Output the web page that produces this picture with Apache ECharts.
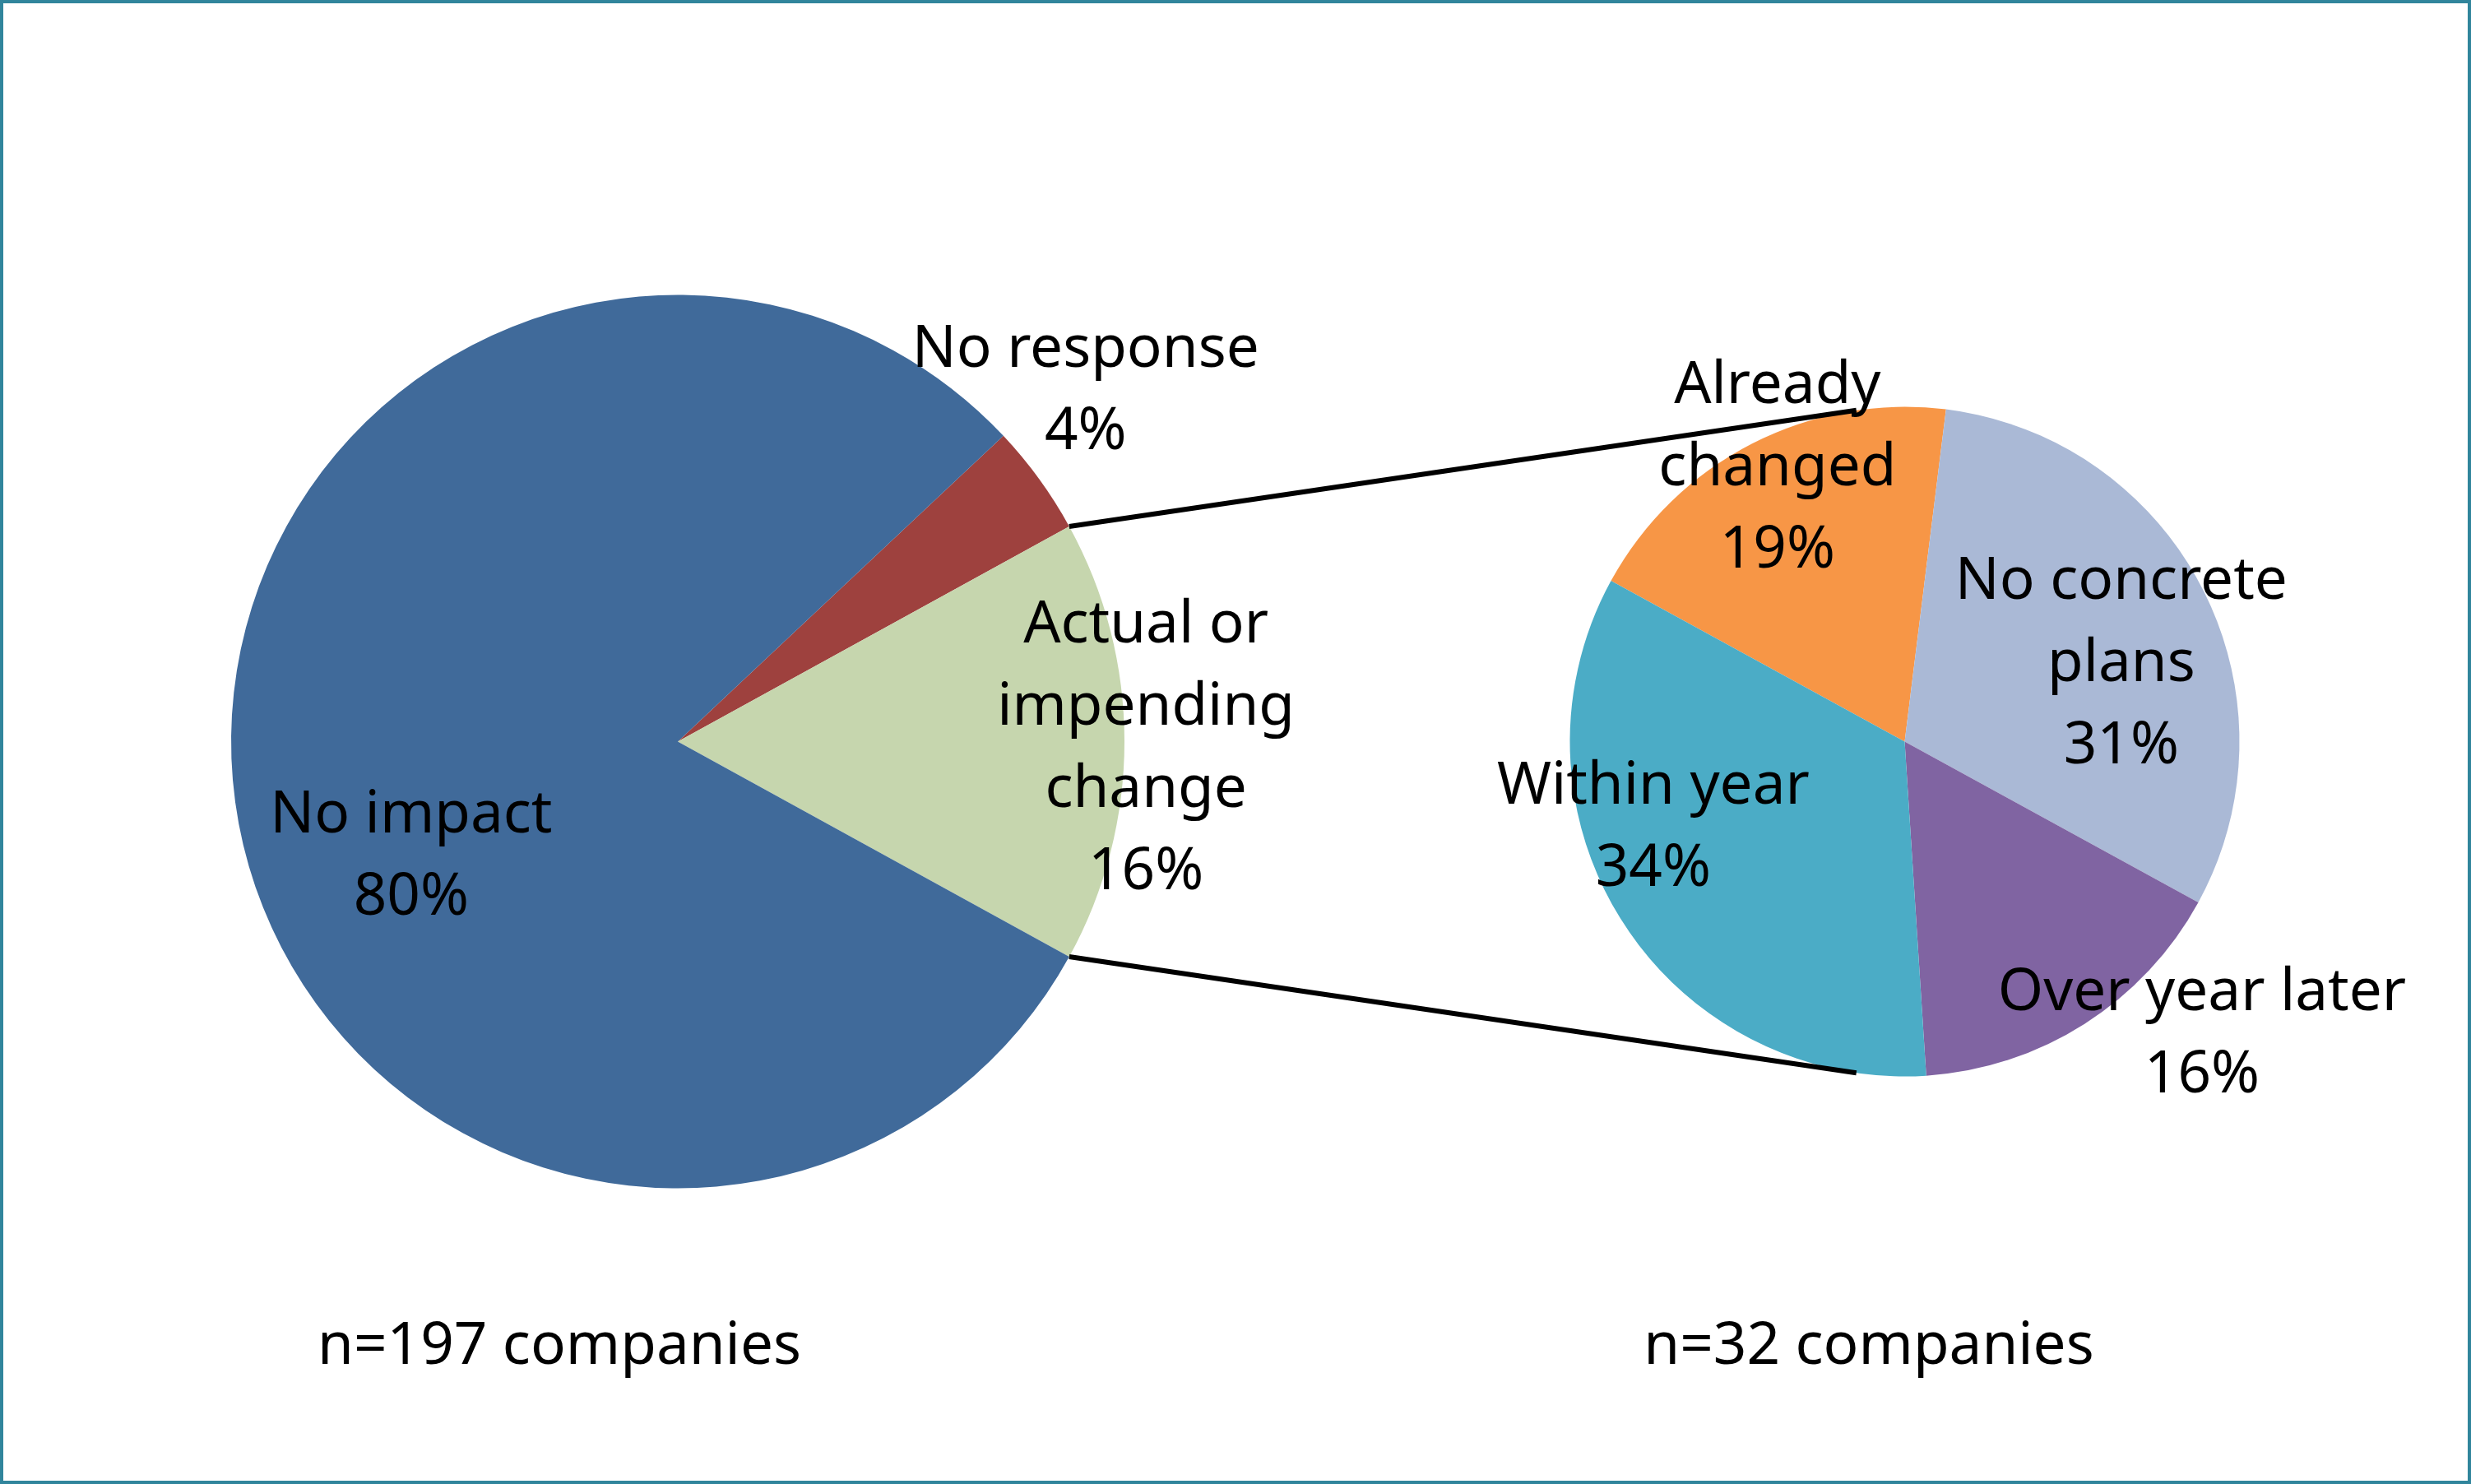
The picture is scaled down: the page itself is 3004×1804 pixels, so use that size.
<!DOCTYPE html>
<html>
<head>
<meta charset="utf-8">
<script src="https://cdn.jsdelivr.net/npm/echarts@6/dist/echarts.min.js"></script>
<style>
html,body{margin:0;padding:0;background:#fff;}
#chart{width:3004px;height:1804px;}
</style>
</head>
<body>
<div id="chart"></div>
<script>
// ---- data ----
const mainCategories = ['No response', 'Actual or\nimpending\nchange', 'No impact'];
const mainValues = [4, 16, 80];
const mainColors = ['#9E413E', '#C6D6AE', '#406A9A'];

const subCategories = ['Already\nchanged', 'No concrete\nplans', 'Over year later', 'Within year'];
const subValues = [19, 31, 16, 34];
const subColors = ['#F79646', '#AAB9D6', '#8064A2', '#4BACC6'];

const sampleLabels = ['n=197 companies', 'n=32 companies'];

// ---- layout ----
const W = 3004, H = 1804;
const L = {cx: 824, cy: 901.5, r: 543};
const R = {cx: 2315.5, cy: 901.5, r: 407};
const FONT = '"Noto Sans", sans-serif';
const FS = 71;
const LH = 100;
const DY = 7;

// label offsets relative to pie centre, in units of radius
const mainLabelOffsets = [[0.913, -0.797], [1.048, 0.005], [-0.597, 0.246]];
const subLabelOffsets = [[-0.380, -0.832], [0.647, -0.247], [0.888, 0.859], [-0.751, 0.242]];

// start angle so the "change" slice is centred on the right side
const mainStart = mainValues[0] / 100 * 360 + mainValues[1] / 100 * 360 / 2;
const subStart = 151.3;

function pts(c, deg) {
  const a = deg * Math.PI / 180;
  return [c.cx + c.r * Math.cos(a), c.cy - c.r * Math.sin(a)];
}
const halfChange = mainValues[1] / 100 * 360 / 2;
const lt = pts(L, halfChange), lb = pts(L, -halfChange);
const rt = pts(R, 98.3), rb = pts(R, -98.3);

function mkData(names, vals, cols) {
  return names.map((n, i) => ({name: n, value: vals[i], itemStyle: {color: cols[i]}}));
}

const chart = echarts.init(document.getElementById('chart'), null, {renderer: 'canvas'});
const labelStyle = {
  show: true,
  formatter: '{b}\n{c}%',
  color: '#000',
  fontFamily: FONT,
  fontSize: FS,
  lineHeight: LH,
  align: 'center'
};
chart.setOption({
  animation: false,
  backgroundColor: '#fff',
  series: [
    {
      type: 'pie',
      center: [L.cx, L.cy],
      radius: [0, L.r],
      startAngle: mainStart,
      clockwise: true,
      silent: true,
      label: Object.assign({position: 'inside'}, labelStyle),
      labelLine: {show: false},
      emphasis: {disabled: true},
      itemStyle: {borderWidth: 0},
      labelLayout: function (p) {
        const o = mainLabelOffsets[p.dataIndex];
        return {x: L.cx + o[0] * L.r, y: L.cy + o[1] * L.r + DY, align: 'center', verticalAlign: 'middle'};
      },
      data: mkData(mainCategories, mainValues, mainColors)
    },
    {
      type: 'pie',
      center: [R.cx, R.cy],
      radius: [0, R.r],
      startAngle: subStart,
      clockwise: true,
      silent: true,
      label: Object.assign({position: 'inside'}, labelStyle),
      labelLine: {show: false},
      emphasis: {disabled: true},
      itemStyle: {borderWidth: 0},
      labelLayout: function (p) {
        const o = subLabelOffsets[p.dataIndex];
        return {x: R.cx + o[0] * R.r, y: R.cy + o[1] * R.r + DY, align: 'center', verticalAlign: 'middle'};
      },
      data: mkData(subCategories, subValues, subColors)
    }
  ],
  graphic: [
    {type: 'polyline', z: 10, shape: {points: [lt, rt]}, style: {stroke: '#000', lineWidth: 6, fill: null}},
    {type: 'polyline', z: 10, shape: {points: [lb, rb]}, style: {stroke: '#000', lineWidth: 6, fill: null}},
    {type: 'text', z: 20, x: 680, y: 1638, style: {text: sampleLabels[0], font: FS + 'px ' + FONT, fill: '#000', align: 'center', verticalAlign: 'middle'}},
    {type: 'text', z: 20, x: 2272, y: 1638, style: {text: sampleLabels[1], font: FS + 'px ' + FONT, fill: '#000', align: 'center', verticalAlign: 'middle'}},
    {type: 'rect', z: 30, shape: {x: 2, y: 2, width: W - 4, height: H - 4}, style: {stroke: '#31859C', lineWidth: 4, fill: null}}
  ]
});
</script>
</body>
</html>
